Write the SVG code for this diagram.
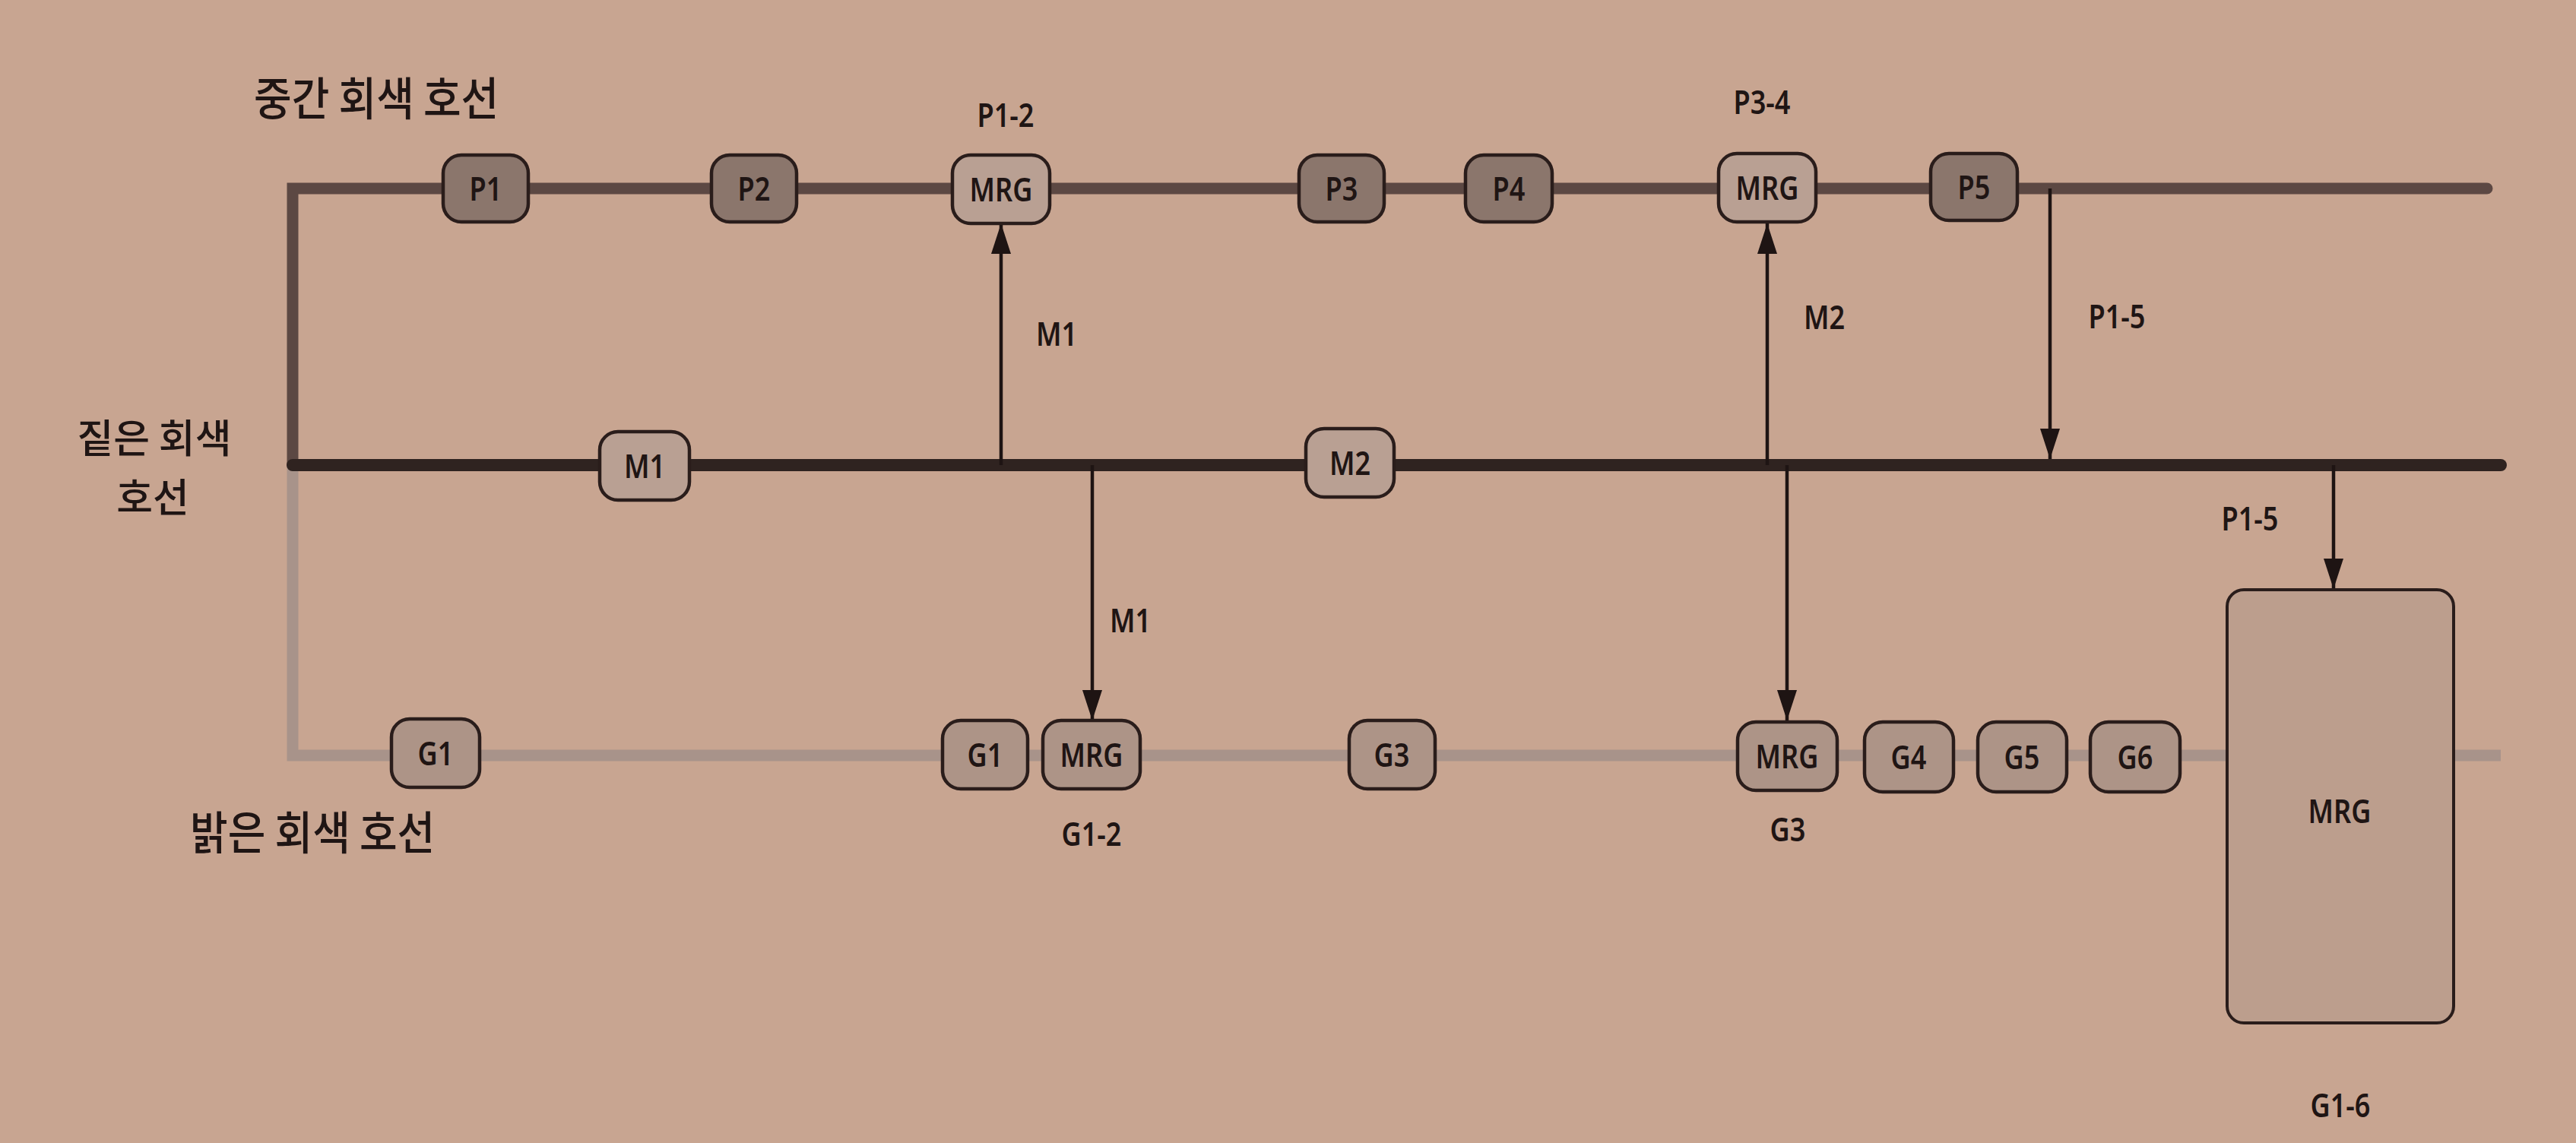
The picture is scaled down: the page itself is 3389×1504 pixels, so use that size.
<svg xmlns="http://www.w3.org/2000/svg" width="3389" height="1504" viewBox="0 0 3389 1504">
<defs>
<marker id="ah" viewBox="0 0 40 26" refX="40" refY="13" markerWidth="40" markerHeight="26" markerUnits="userSpaceOnUse" orient="auto">
<path d="M0,0 L40,13 L0,26 Z" fill="#1e1413"/>
</marker>
<style>
.bg{fill:#c8a591}
.lineTop{stroke:#5c4843;stroke-width:15;fill:none;stroke-linecap:round}
.lineMid{stroke:#2f2320;stroke-width:16;fill:none;stroke-linecap:round}
.lineLight{stroke:#a8938a;stroke-width:15;fill:none}
.arr{stroke:#1e1413;stroke-width:4.5;fill:none}
.nd{stroke:#2a1d1b;stroke-width:4.5}
.pn{fill:#8b766c}
.mn{fill:#b9a093}
.gn{fill:#ad9487}
.bigbox{fill:#bc9e8d;stroke:#2a1d1b;stroke-width:4}
.t{font-family:"Noto Sans","Liberation Sans",sans-serif;font-size:44px;font-weight:600;fill:#1f1514;text-anchor:middle}
.kr{font-family:"Noto Sans CJK KR","Noto Sans",sans-serif;font-size:60px;font-weight:500;fill:#1f1514}
.kr2{font-family:"Noto Sans CJK KR","Noto Sans",sans-serif;font-size:52px;font-weight:500;fill:#1f1514;text-anchor:middle}
</style>
</defs>
<rect class="bg" x="0" y="0" width="3389" height="1504"/>

<g id="connectors">
<path class="lineLight" d="M385,612 L385,994 L3290,994"/>
<path class="lineTop" d="M385,612 L385,248 L3272,248"/>
<path class="lineMid" d="M385,612 L3290,612"/>
<line class="arr" x1="1317" y1="612" x2="1317" y2="294" marker-end="url(#ah)"/>
<line class="arr" x1="2325" y1="612" x2="2325" y2="294" marker-end="url(#ah)"/>
<line class="arr" x1="2697" y1="248" x2="2697" y2="604" marker-end="url(#ah)"/>
<line class="arr" x1="1437" y1="612" x2="1437" y2="948" marker-end="url(#ah)"/>
<line class="arr" x1="2351" y1="612" x2="2351" y2="948" marker-end="url(#ah)"/>
<line class="arr" x1="3070" y1="612" x2="3070" y2="775" marker-end="url(#ah)"/>
<text class="t" transform="translate(1390 455) scale(0.82 1)">M1</text>
<text class="t" transform="translate(2400 433) scale(0.82 1)">M2</text>
<text class="t" transform="translate(2785 432) scale(0.82 1)">P1-5</text>
<text class="t" transform="translate(1487 832) scale(0.82 1)">M1</text>
<text class="t" transform="translate(2960 698) scale(0.82 1)">P1-5</text>
</g>

<g id="labels">
<text class="kr" transform="translate(334 152) scale(0.9 1)">중간 회색 호선</text>
<text class="kr2" x="203" y="596">짙은 회색</text>
<text class="kr2" x="201" y="674">호선</text>
<text class="kr" transform="translate(250 1118) scale(0.9 1)">밝은 회색 호선</text>
<text class="t" transform="translate(1323 167) scale(0.82 1)">P1-2</text>
<text class="t" transform="translate(2318 150) scale(0.82 1)">P3-4</text>
<text class="t" transform="translate(1436 1113) scale(0.82 1)">G1-2</text>
<text class="t" transform="translate(2352 1107) scale(0.82 1)">G3</text>
<text class="t" transform="translate(3079 1470) scale(0.82 1)">G1-6</text>
</g>

<g id="n-P1"><rect class="nd pn" x="583" y="204" width="112" height="88" rx="24"/><text class="t" transform="translate(639 264) scale(0.82 1)">P1</text></g>
<g id="n-P2"><rect class="nd pn" x="936" y="204" width="112" height="88" rx="24"/><text class="t" transform="translate(992 264) scale(0.82 1)">P2</text></g>
<g id="n-MRG12"><rect class="nd mn" x="1253" y="204" width="128" height="90" rx="24"/><text class="t" transform="translate(1317 265) scale(0.82 1)">MRG</text></g>
<g id="n-P3"><rect class="nd pn" x="1709" y="204" width="112" height="88" rx="24"/><text class="t" transform="translate(1765 264) scale(0.82 1)">P3</text></g>
<g id="n-P4"><rect class="nd pn" x="1928" y="204" width="114" height="88" rx="24"/><text class="t" transform="translate(1985 264) scale(0.82 1)">P4</text></g>
<g id="n-MRG34"><rect class="nd mn" x="2261" y="202" width="128" height="90" rx="24"/><text class="t" transform="translate(2325 263) scale(0.82 1)">MRG</text></g>
<g id="n-P5"><rect class="nd pn" x="2540" y="202" width="114" height="88" rx="24"/><text class="t" transform="translate(2597 262) scale(0.82 1)">P5</text></g>

<g id="n-M1"><rect class="nd mn" x="789" y="568" width="118" height="90" rx="24"/><text class="t" transform="translate(848 629) scale(0.82 1)">M1</text></g>
<g id="n-M2"><rect class="nd mn" x="1718" y="564" width="116" height="90" rx="24"/><text class="t" transform="translate(1776 625) scale(0.82 1)">M2</text></g>

<g id="n-G1a"><rect class="nd gn" x="515" y="946" width="116" height="90" rx="24"/><text class="t" transform="translate(573 1007) scale(0.82 1)">G1</text></g>
<g id="n-G1b"><rect class="nd gn" x="1240" y="948" width="112" height="90" rx="24"/><text class="t" transform="translate(1296 1009) scale(0.82 1)">G1</text></g>
<g id="n-MRG12g"><rect class="nd gn" x="1372" y="948" width="128" height="90" rx="24"/><text class="t" transform="translate(1436 1009) scale(0.82 1)">MRG</text></g>
<g id="n-G3"><rect class="nd gn" x="1775" y="948" width="113" height="90" rx="24"/><text class="t" transform="translate(1831 1009) scale(0.82 1)">G3</text></g>
<g id="n-MRG3g"><rect class="nd gn" x="2286" y="950" width="131" height="90" rx="24"/><text class="t" transform="translate(2351 1011) scale(0.82 1)">MRG</text></g>
<g id="n-G4"><rect class="nd gn" x="2453" y="950" width="117" height="92" rx="24"/><text class="t" transform="translate(2511 1012) scale(0.82 1)">G4</text></g>
<g id="n-G5"><rect class="nd gn" x="2602" y="950" width="117" height="92" rx="24"/><text class="t" transform="translate(2660 1012) scale(0.82 1)">G5</text></g>
<g id="n-G6"><rect class="nd gn" x="2750" y="950" width="118" height="92" rx="24"/><text class="t" transform="translate(2809 1012) scale(0.82 1)">G6</text></g>

<g id="n-MRGbig"><rect class="bigbox" x="2930" y="776" width="298" height="570" rx="22"/><text class="t" transform="translate(3078 1083) scale(0.82 1)">MRG</text></g>
</svg>
